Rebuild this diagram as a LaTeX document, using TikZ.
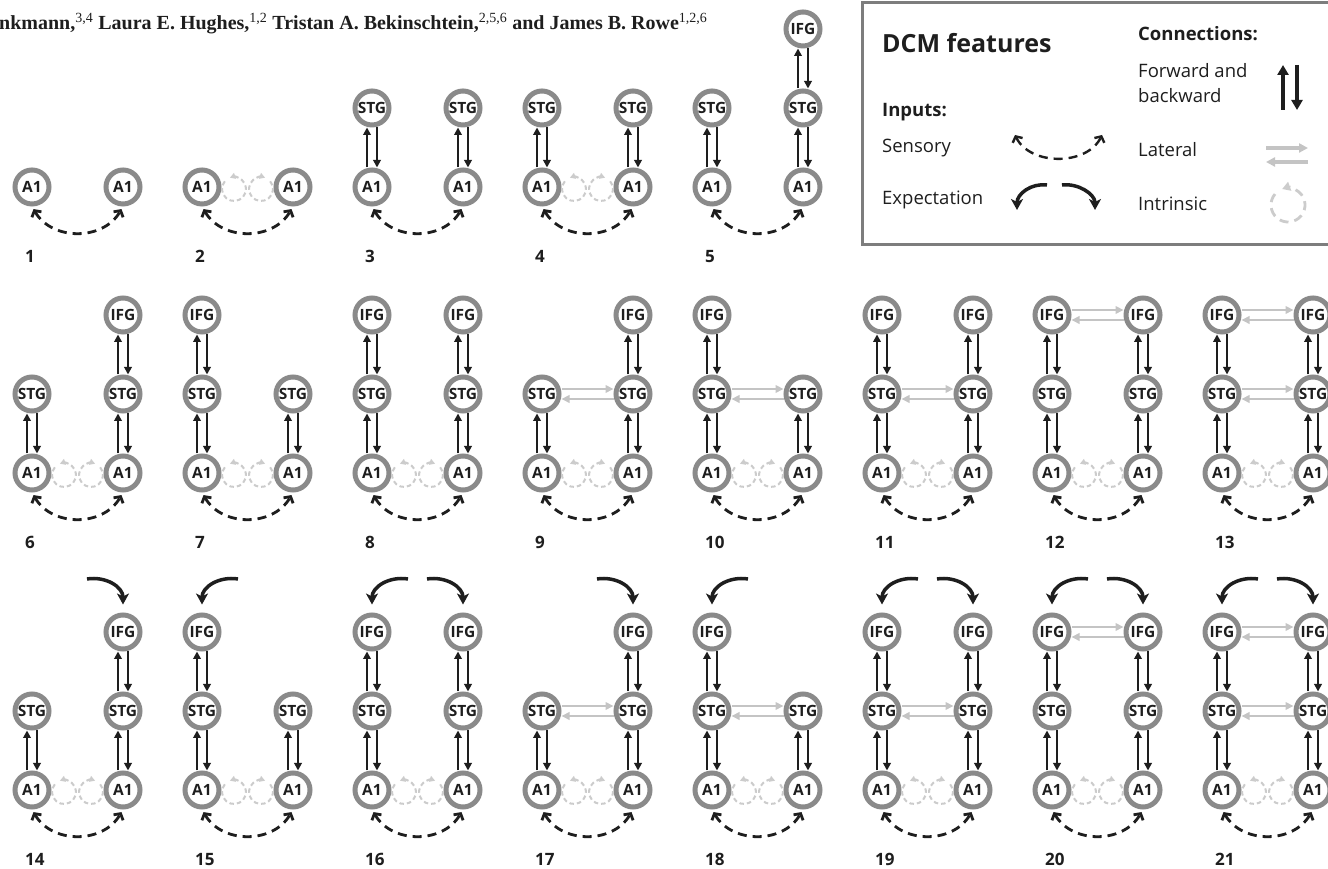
\documentclass[tikz,border=0pt]{standalone}
\usepackage{fontspec}
\setmainfont{Open Sans}
\newfontfamily\headfont{Liberation Serif}
\usetikzlibrary{arrows.meta}

\definecolor{ringgray}{RGB}{138,138,138}
\definecolor{latgray}{RGB}{196,196,196}
\definecolor{loopgray}{RGB}{204,204,204}
\definecolor{boxgray}{RGB}{125,125,125}
\definecolor{ink}{RGB}{30,30,30}

\tikzset{
  region/.style={circle,draw=ringgray,line width=5pt,fill=white,minimum size=34pt,
    inner sep=0pt,text=ink,font=\bfseries\fontsize{15.5}{16}\selectfont},
  fwd/.style={draw=ink,line width=2.8pt,-{Triangle[length=7.5pt,width=7.5pt]}},
  lateral/.style={draw=latgray,line width=2.8pt,-{Triangle[length=8pt,width=7.5pt]}},
  sensory/.style={draw=ink,line width=2.8pt,dash pattern=on 9pt off 6pt,
    {Straight Barb[length=4.5pt,width=11pt]}-{Straight Barb[length=4.5pt,width=11pt]},
    shorten <=3pt,shorten >=3pt},
  intr/.style={draw=loopgray,line width=2pt,dash pattern=on 4.5pt off 3pt,
    -{Triangle[length=5.5pt,width=6pt]}},
  expect/.style={draw=ink,line width=3.5pt,-{Stealth[length=11pt,width=12pt,inset=3pt]},
    shorten >=8pt},
  num/.style={anchor=base west,inner sep=0pt,text=ink,font=\bfseries\fontsize{17}{20}\selectfont},
  legtext/.style={anchor=base west,inner sep=0pt,text=ink,font=\fontsize{18.5}{22}\selectfont},
  leghead/.style={legtext,font=\bfseries\fontsize{18.5}{22}\selectfont},
}

% forward (up) and backward (down) pair between two levels
\newcommand{\fbpair}[2]{%
  \draw[fwd] ([xshift=-5pt]#1.north) -- ([xshift=-5pt]#2.south);
  \draw[fwd] ([xshift=5pt]#2.south) -- ([xshift=5pt]#1.north);
}
% lateral pair between two regions
\newcommand{\latpair}[2]{%
  \draw[lateral] ([yshift=5pt]#1.east) -- ([yshift=5pt]#2.west);
  \draw[lateral] ([yshift=-5pt]#2.west) -- ([yshift=-5pt]#1.east);
}
% one hemisphere: A1, then STG, then IFG
\newcommand{\stack}[4]{%
  \node[region] (#1a) at (#2,#3) {A1};
  \ifnum#4>1
    \node[region] (#1s) at (#2,#3+79) {STG};
    \fbpair{#1a}{#1s}
  \fi
  \ifnum#4>2
    \node[region] (#1i) at (#2,#3+158) {IFG};
    \fbpair{#1s}{#1i}
  \fi
}
% #1 number, #2 column, #3 A1 level, #4/#5 levels left/right,
% #6 lateral (1 STG, 2 IFG, 3 both), #7 intrinsic, #8 expectation (1 left, 2 right, 3 both)
\newcommand{\model}[8]{%
  \pgfmathsetmacro{\xL}{32+170*#2}
  \pgfmathsetmacro{\xR}{\xL+91}
  \def\yA{#3}
  \stack{L#1}{\xL}{\yA}{#4}
  \stack{R#1}{\xR}{\yA}{#5}
  \ifodd#6 \latpair{L#1s}{R#1s}\fi
  \ifnum#6>1 \latpair{L#1i}{R#1i}\fi
  \ifnum#7=1
    \coordinate (L#1o) at (\xL+32,\yA-2);
    \coordinate (R#1o) at (\xR-32,\yA-2);
    \draw[intr] ([shift={(140:12)}]L#1o) arc[start angle=140,end angle=470,radius=12];
    \draw[intr] ([shift={(40:12)}]R#1o) arc[start angle=40,end angle=-290,radius=12];
  \fi
  \draw[sensory] (L#1a.south) .. controls (\xL+20,\yA-54) and (\xR-20,\yA-54) .. (R#1a.south);
  \ifodd#8
    \coordinate (L#1e) at (\xL+36,\yA+211);
    \draw[expect] (L#1e) .. controls (\xL+17,\yA+214) and (\xL,\yA+203) .. (L#1i.north);
  \fi
  \ifnum#8>1
    \coordinate (R#1e) at (\xR-36,\yA+211);
    \draw[expect] (R#1e) .. controls (\xR-17,\yA+214) and (\xR,\yA+203) .. (R#1i.north);
  \fi
  \node[num] (n#1) at (\xL-7,\yA-76) {#1};
}

\begin{document}
\begin{tikzpicture}[x=1pt,y=1pt]
  \useasboundingbox (0,0) rectangle (1328,869);
  \clip (0,0) rectangle (1328,869);
  \fill[white] (0,0) rectangle (1328,869);

  \node[anchor=base west,inner sep=0pt,text=ink,
    font=\headfont\bfseries\fontsize{20}{24}\selectfont] (authors) at (-1,839)
    {nkmann,\textsuperscript{\mdseries 3,4} Laura E. Hughes,\textsuperscript{\mdseries 1,2}
     Tristan A. Bekinschtein,\textsuperscript{\mdseries 2,5,6} and James B. Rowe\textsuperscript{\mdseries 1,2,6}};

  % row 1
  \foreach \mn/\mc/\ml/\mr/\mlat/\mloop/\mexp in
    {1/0/1/1/0/0/0, 2/1/1/1/0/1/0, 3/2/2/2/0/0/0, 4/3/2/2/0/1/0, 5/4/2/3/0/0/0}
    { \model{\mn}{\mc}{682}{\ml}{\mr}{\mlat}{\mloop}{\mexp} }

  % row 2
  \foreach \mn/\mc/\ml/\mr/\mlat/\mloop/\mexp in
    {6/0/2/3/0/1/0, 7/1/3/2/0/1/0, 8/2/3/3/0/1/0, 9/3/2/3/1/1/0,
     10/4/3/2/1/1/0, 11/5/3/3/1/1/0, 12/6/3/3/2/1/0, 13/7/3/3/3/1/0}
    { \model{\mn}{\mc}{396}{\ml}{\mr}{\mlat}{\mloop}{\mexp} }

  % row 3, with expectation
  \foreach \mn/\mc/\ml/\mr/\mlat/\mloop/\mexp in
    {14/0/2/3/0/1/2, 15/1/3/2/0/1/1, 16/2/3/3/0/1/3, 17/3/2/3/1/1/2,
     18/4/3/2/1/1/1, 19/5/3/3/1/1/3, 20/6/3/3/2/1/3, 21/7/3/3/3/1/3}
    { \model{\mn}{\mc}{79}{\ml}{\mr}{\mlat}{\mloop}{\mexp} }

  % legend
  \draw[boxgray,line width=3pt] (862,866) rectangle (1350,624);
  \node[legtext,font=\bfseries\fontsize{25}{30}\selectfont] (title) at (882,816) {DCM features};
  \node[leghead] (inputs) at (882,752) {Inputs:};
  \node[legtext] (sens) at (882,716) {Sensory};
  \node[legtext] (expt) at (882,664) {Expectation};
  \node[leghead] (conn) at (1138,828) {Connections:};
  \node[legtext] (fb1) at (1138,791) {Forward and};
  \node[legtext] (fb2) at (1138,766) {backward};
  \node[legtext] (latl) at (1138,712) {Lateral};
  \node[legtext] (intl) at (1138,658) {Intrinsic};

  \coordinate (s1) at (1015,734); \coordinate (s2) at (1102,734);
  \draw[sensory,line width=2.4pt,shorten <=0pt,shorten >=0pt]
    (s1) .. controls (1030,703) and (1087,703) .. (s2);

  \coordinate (e1) at (1047,684); \coordinate (e2) at (1017,659);
  \coordinate (e3) at (1062,684); \coordinate (e4) at (1095,659);
  \draw[expect,shorten >=0pt] (e1) .. controls (1031,686) and (1017,675) .. (e2);
  \draw[expect,shorten >=0pt] (e3) .. controls (1078,686) and (1095,675) .. (e4);

  \coordinate (f1) at (1283,759); \coordinate (f2) at (1283,804);
  \coordinate (f3) at (1297,804); \coordinate (f4) at (1297,759);
  \draw[fwd,line width=4pt,-{Triangle[length=10pt,width=11pt]}] (f1) -- (f2);
  \draw[fwd,line width=4pt,-{Triangle[length=10pt,width=11pt]}] (f3) -- (f4);

  \coordinate (l1) at (1266,721); \coordinate (l2) at (1308,721);
  \coordinate (l3) at (1308,707); \coordinate (l4) at (1266,707);
  \draw[lateral,line width=3.5pt,-{Triangle[length=9pt,width=9pt]}] (l1) -- (l2);
  \draw[lateral,line width=3.5pt,-{Triangle[length=9pt,width=9pt]}] (l3) -- (l4);

  \coordinate (ilp) at (1288,664);
  \draw[intr,line width=2.8pt,dash pattern=on 9pt off 6pt,-{Triangle[length=8pt,width=9pt]}]
    ([shift={(140:17)}]ilp) arc[start angle=140,end angle=470,radius=17];
\end{tikzpicture}
\end{document}
